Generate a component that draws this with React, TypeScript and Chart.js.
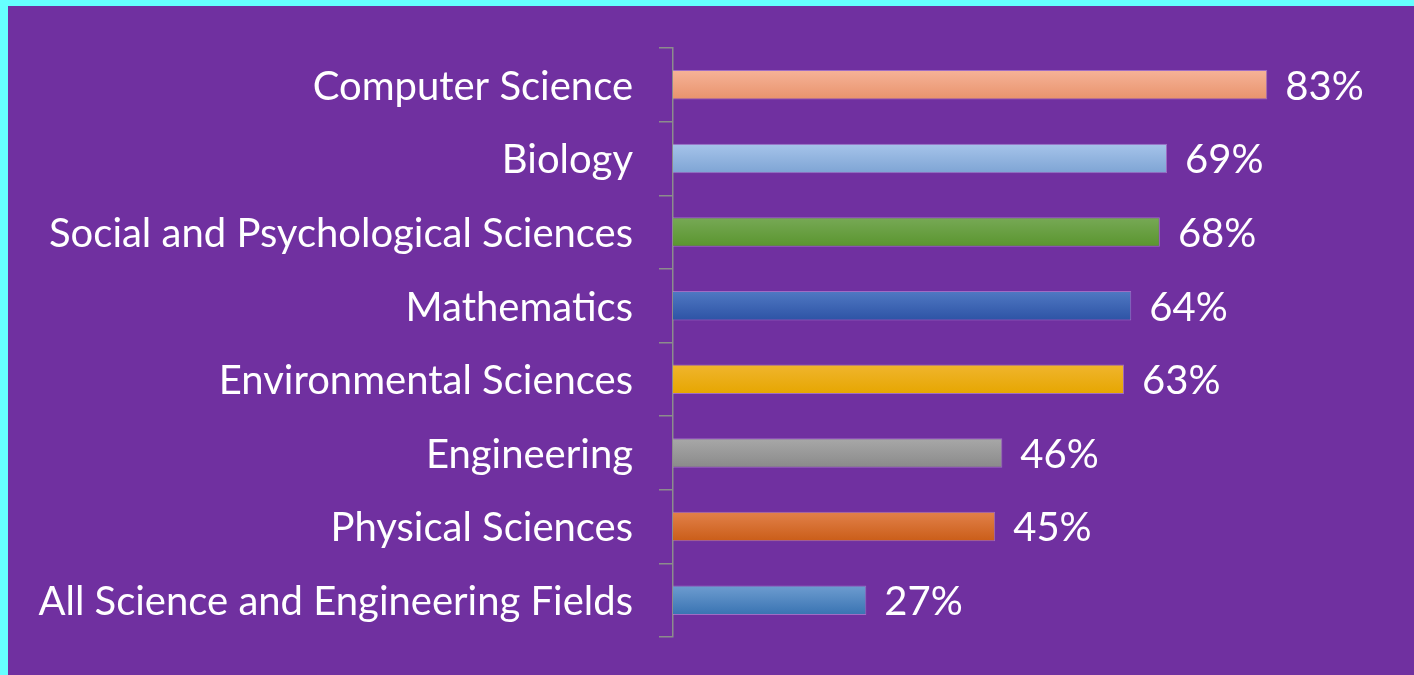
import React, { useEffect, useRef } from "react";
import { Chart, registerables } from "chart.js";

Chart.register(...registerables);

const categories = [
  "Computer Science",
  "Biology",
  "Social and Psychological Sciences",
  "Mathematics",
  "Environmental Sciences",
  "Engineering",
  "Physical Sciences",
  "All Science and Engineering Fields",
];
const values = [83, 69, 68, 64, 63, 46, 45, 27];
const topColors = ["#F6B398", "#A6C4EA", "#77A956", "#5079C3", "#F0B52E", "#A8A8A8", "#E2814A", "#6E9DD0"];
const bottomColors = ["#E8936C", "#7EA4D4", "#5A952E", "#2D53A5", "#E6A600", "#8A8A8A", "#CA5D18", "#3973B2"];

const FONT = "Lato, 'Open Sans', sans-serif";
const FONT_SIZE = 40;

export default function App() {
  const ref = useRef<HTMLCanvasElement | null>(null);

  useEffect(() => {
    document.body.style.margin = "0";
    const canvas = ref.current;
    if (!canvas) return;

    const labelPlugin = {
      id: "valueLabels",
      afterDatasetsDraw(chart: any) {
        const ctx = chart.ctx;
        const meta = chart.getDatasetMeta(0);
        ctx.save();
        ctx.fillStyle = "#FFFFFF";
        ctx.font = `${FONT_SIZE}px ${FONT}`;
        ctx.textAlign = "left";
        ctx.textBaseline = "middle";
        meta.data.forEach((bar: any, i: number) => {
          ctx.fillText(values[i] + "%", bar.x + 18, bar.y + 2);
        });
        ctx.restore();
      },
    };

    const chart = new Chart(canvas, {
      type: "bar",
      data: {
        labels: categories,
        datasets: [
          {
            data: values,
            backgroundColor: (context: any) => {
              const ch = context.chart;
              const i = context.dataIndex;
              const ys = ch.scales && ch.scales.y;
              if (!ch.chartArea || !ys || i === undefined) return topColors[i ?? 0];
              const c = ys.getPixelForValue(i);
              const half = ((ys.height / categories.length) * 0.4) / 2;
              const g = ch.ctx.createLinearGradient(0, c - half, 0, c + half);
              g.addColorStop(0, topColors[i]);
              g.addColorStop(1, bottomColors[i]);
              return g;
            },
            borderColor: "rgba(190,150,220,0.6)",
            borderWidth: 1,
            borderSkipped: "left",
            categoryPercentage: 0.4,
            barPercentage: 1,
          },
        ],
      },
      options: {
        indexAxis: "y",
        animation: false,
        responsive: false,
        maintainAspectRatio: false,
        layout: { padding: { top: 48, bottom: 38, right: 25, left: 0 } },
        plugins: {
          legend: { display: false },
          tooltip: { enabled: false },
        },
        scales: {
          x: {
            display: false,
            min: 0,
            max: 100,
          },
          y: {
            afterFit: (scale: any) => {
              scale.width = 673;
              scale.paddingTop = 0;
              scale.paddingBottom = 0;
            },
            border: { display: true, color: "#8C8C8C", width: 1.5 },
            grid: {
              display: true,
              offset: true,
              drawOnChartArea: false,
              drawTicks: true,
              tickLength: 14,
              color: "#8C8C8C",
              lineWidth: 1.5,
            },
            ticks: {
              color: "#FFFFFF",
              padding: 26,
              labelOffset: 2,
              font: { family: FONT, size: FONT_SIZE },
            },
          },
        },
      },
      plugins: [labelPlugin],
    });

    return () => chart.destroy();
  }, []);

  return (
    <div style={{ position: "relative", width: 1414, height: 675, background: "#66FFFF", overflow: "hidden" }}>
      <div style={{ position: "absolute", left: 8, top: 6, right: 0, bottom: 0, background: "#7030A0" }} />
      <canvas ref={ref} width={1414} height={675} style={{ position: "absolute", left: 0, top: 0 }} />
    </div>
  );
}
